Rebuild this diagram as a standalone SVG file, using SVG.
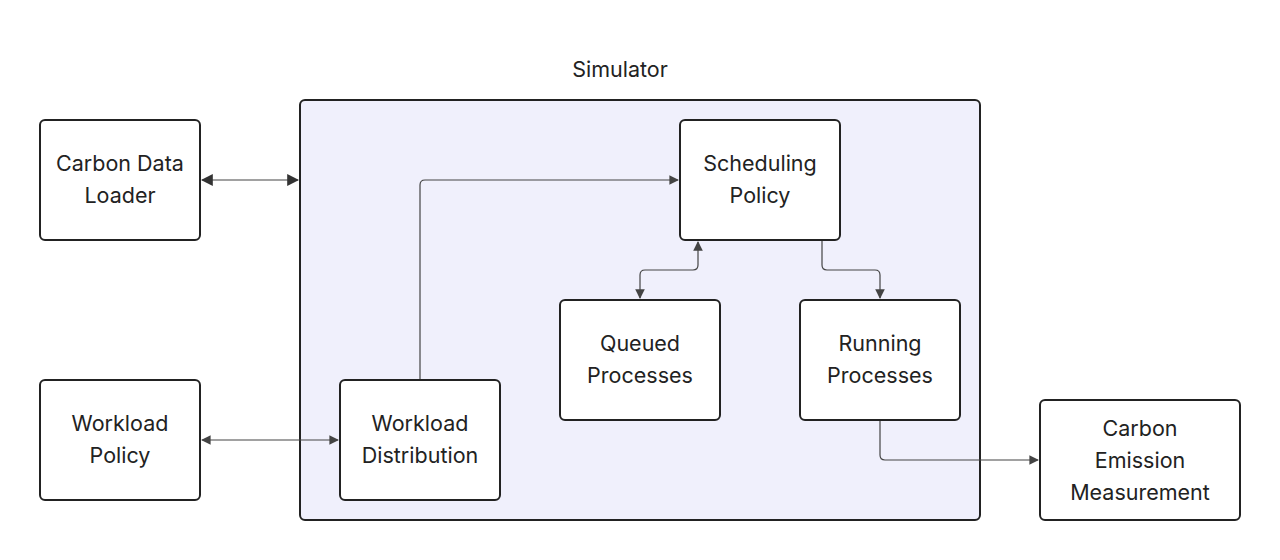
<svg xmlns="http://www.w3.org/2000/svg" width="1280" height="560" viewBox="0 0 1280 560">
<defs>
<marker id="ah" viewBox="0 0 10 10" refX="9" refY="5" markerWidth="8" markerHeight="8" orient="auto-start-reverse"><path d="M0,0 L10,5 L0,10 z" fill="#444"/></marker>
<marker id="ahb" viewBox="0 0 10 10" refX="9" refY="5" markerWidth="12" markerHeight="12" markerUnits="userSpaceOnUse" orient="auto-start-reverse"><path d="M0,0 L10,5 L0,10 z" fill="#333"/></marker>
<style>
.n{fill:#fff;stroke:#222;stroke-width:2}
.t{font-family:Inter,"Liberation Sans",sans-serif;font-size:21.5px;fill:#222;text-anchor:middle}
.c{fill:none;stroke:#444;stroke-width:1.2}
</style>
</defs>
<rect width="1280" height="560" fill="#fff"/>
<g id="simulator">
<rect x="300" y="100" width="680" height="420" rx="5" fill="#f0f0fc" stroke="#222" stroke-width="2"/>
<text class="t" x="620" y="77">Simulator</text>
</g>
<g id="connectors">
<path class="c" d="M202,180 H298" stroke="#333" stroke-width="2" marker-start="url(#ahb)" marker-end="url(#ahb)"/>
<path class="c" d="M202,440 H338" marker-start="url(#ah)" marker-end="url(#ah)"/>
<path class="c" d="M420,380 V185 Q420,180 425,180 H678" marker-end="url(#ah)"/>
<path class="c" d="M640,298 V275 Q640,270 645,270 H693 Q698,270 698,265 V242" marker-start="url(#ah)" marker-end="url(#ah)"/>
<path class="c" d="M822,240 V265 Q822,270 827,270 H875 Q880,270 880,275 V298" marker-end="url(#ah)"/>
<path class="c" d="M880,420 V455 Q880,460 885,460 H1038" marker-end="url(#ah)"/>
</g>
<g id="carbon-data-loader"><rect class="n" x="40" y="120" width="160" height="120" rx="5"/><text class="t" x="120" y="171">Carbon Data</text><text class="t" x="120" y="203">Loader</text></g>
<g id="workload-policy"><rect class="n" x="40" y="380" width="160" height="120" rx="5"/><text class="t" x="120" y="431">Workload</text><text class="t" x="120" y="463">Policy</text></g>
<g id="workload-distribution"><rect class="n" x="340" y="380" width="160" height="120" rx="5"/><text class="t" x="420" y="431">Workload</text><text class="t" x="420" y="463">Distribution</text></g>
<g id="scheduling-policy"><rect class="n" x="680" y="120" width="160" height="120" rx="5"/><text class="t" x="760" y="171">Scheduling</text><text class="t" x="760" y="203">Policy</text></g>
<g id="queued-processes"><rect class="n" x="560" y="300" width="160" height="120" rx="5"/><text class="t" x="640" y="351">Queued</text><text class="t" x="640" y="383">Processes</text></g>
<g id="running-processes"><rect class="n" x="800" y="300" width="160" height="120" rx="5"/><text class="t" x="880" y="351">Running</text><text class="t" x="880" y="383">Processes</text></g>
<g id="carbon-emission-measurement"><rect class="n" x="1040" y="400" width="200" height="120" rx="5"/><text class="t" x="1140" y="436">Carbon</text><text class="t" x="1140" y="468">Emission</text><text class="t" x="1140" y="500">Measurement</text></g>
</svg>
